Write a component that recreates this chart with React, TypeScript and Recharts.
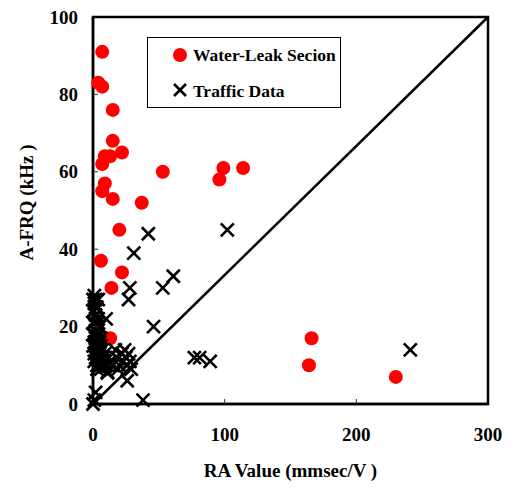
import {
  ScatterChart,
  Scatter,
  XAxis,
  YAxis,
  ReferenceLine,
  ReferenceArea,
  Legend,
} from "recharts";

const FONT = '"Liberation Serif", "Times New Roman", serif';

const xTicks = [0, 100, 200, 300];
const yTicks = [0, 20, 40, 60, 80, 100];

// Water-leak section points (RA value, A-FRQ)
const leakRA = [7, 4, 7, 15, 15, 22, 9, 13, 7, 53, 99, 96, 114, 9, 7, 15, 37, 20, 6, 22, 14, 13, 166, 164, 230];
const leakFRQ = [91, 83, 82, 76, 68, 65, 64, 64, 62, 60, 61, 58, 61, 57, 55, 53, 52, 45, 37, 34, 30, 17, 17, 10, 7];

// Traffic data points
const trafficRA = [
  102, 42, 31, 61, 53, 28, 27, 46, 10, 77, 81, 89, 241, 26, 38, 2, 1, 0,
  1, 2, 4, 1, 3, 1, 2, 4, 1, 3, 2, 1, 4, 2, 3, 5, 2, 4, 6, 3, 5, 7, 4, 6, 8, 5, 9, 0,
  0, 0, 0, 0, 1, 2, 3, 1, 2, 3, 4, 5, 6, 7, 6, 8, 9, 10, 3, 4, 2, 5, 6, 7, 1, 3,
  12, 11, 17, 18, 20, 22, 23, 25, 26, 27, 28, 29, 24, 15, 9, 11, 13, 19,
];
const trafficFRQ = [
  45, 44, 39, 33, 30, 30, 27, 20, 22, 12, 12, 11, 14, 6, 1, 3, 1, 0,
  28, 27, 27, 26, 25, 24, 23, 22, 21, 20, 19, 18, 18, 17, 16, 16, 15, 14, 14, 13, 13, 12, 12, 11, 10, 10, 13, 27,
  24, 21, 18, 15, 13, 12, 10, 16, 14, 17, 15, 12, 15, 14, 9, 12, 11, 10, 19, 21, 25, 20, 17, 11, 11, 9,
  12, 8, 14, 12, 10, 13, 11, 12, 10, 13, 11, 9, 14, 10, 9.6, 8.3, 11, 9,
];

const diagonal = [
  { x: 0, y: 0 },
  { x: 300, y: 100 },
];

const leakData = leakRA.map((x, i) => ({ x, y: leakFRQ[i] }));
const trafficData = trafficRA.map((x, i) => ({ x, y: trafficFRQ[i] }));

const X_MARGIN = 24;
const Y_MARGIN = 15;
const INNER_TICK = 5;

function Cross({ cx, cy }: any) {
  const s = 6.5;
  return (
    <g stroke="#000" strokeWidth={2.6}>
      <line x1={cx - s} y1={cy - s} x2={cx + s} y2={cy + s} />
      <line x1={cx - s} y1={cy + s} x2={cx + s} y2={cy - s} />
    </g>
  );
}

function Dot({ cx, cy }: any) {
  return <circle cx={cx} cy={cy} r={7} fill="#ff0000" />;
}

function XTick({ x, y, payload }: any) {
  const axisY = y - X_MARGIN;
  const v = payload.value;
  return (
    <g>
      {v > 0 && v < 300 && (
        <line x1={x} y1={axisY} x2={x} y2={axisY - INNER_TICK} stroke="#333" strokeWidth={1} />
      )}
      <text x={x} y={y + 13} textAnchor="middle" fontFamily={FONT} fontWeight="bold" fontSize={19} fill="#000">
        {v}
      </text>
    </g>
  );
}

function YTick({ x, y, payload }: any) {
  const axisX = x + Y_MARGIN;
  const v = payload.value;
  return (
    <g>
      {v > 0 && v < 100 && (
        <line x1={axisX} y1={y} x2={axisX + INNER_TICK} y2={y} stroke="#333" strokeWidth={1} />
      )}
      <text x={x} y={y + 6.5} textAnchor="end" fontFamily={FONT} fontWeight="bold" fontSize={19} fill="#000">
        {v}
      </text>
    </g>
  );
}

function LegendBox() {
  return (
    <svg width={194} height={71} style={{ display: "block" }}>
      <rect x={0.5} y={0.5} width={193} height={70} fill="#fff" stroke="#000" strokeWidth={1} />
      <circle cx={33} cy={18} r={7} fill="#ff0000" />
      <text x={46} y={24} fontFamily={FONT} fontWeight="bold" fontSize={17.5} fill="#000">
        Water-Leak Secion
      </text>
      <g stroke="#000" strokeWidth={2.6}>
        <line x1={27} y1={47} x2={39} y2={59} />
        <line x1={27} y1={59} x2={39} y2={47} />
      </g>
      <text x={46} y={60} fontFamily={FONT} fontWeight="bold" fontSize={17.5} fill="#000">
        Traffic Data
      </text>
    </svg>
  );
}

export default function App() {
  return (
    <div style={{ position: "absolute", left: 0, top: 0, background: "#fff" }}>
      <ScatterChart width={515} height={489} margin={{ top: 17, right: 27, bottom: 0, left: 0 }}>
        <XAxis
          type="number"
          dataKey="x"
          domain={[0, 300]}
          ticks={xTicks}
          interval={0}
          axisLine={{ stroke: "#000", strokeWidth: 2.5 }}
          tickLine={false}
          tickSize={0}
          tickMargin={X_MARGIN}
          tick={<XTick />}
          height={85}
          label={{
            value: "RA Value (mmsec/V )",
            position: "insideBottom",
            offset: 12,
            style: { fontFamily: FONT, fontWeight: "bold", fontSize: 19, fill: "#000" },
          }}
        />
        <YAxis
          type="number"
          dataKey="y"
          domain={[0, 100]}
          ticks={yTicks}
          interval={0}
          axisLine={{ stroke: "#000", strokeWidth: 2.5 }}
          tickLine={false}
          tickSize={0}
          tickMargin={Y_MARGIN}
          tick={<YTick />}
          width={93}
          label={{
            value: "A-FRQ (kHz )",
            angle: -90,
            position: "insideLeft",
            offset: 26,
            dy: -8,
            style: { textAnchor: "middle", fontFamily: FONT, fontWeight: "bold", fontSize: 19, fill: "#000" },
          }}
        />
        <ReferenceArea x1={0} x2={300} y1={0} y2={100} fill="none" stroke="#000" strokeWidth={2.5} />
        <ReferenceLine segment={diagonal} stroke="#000" strokeWidth={2.5} />
        <Legend
          layout="vertical"
          align="center"
          verticalAlign="middle"
          wrapperStyle={{ left: 147, top: 37, width: 194, height: 71 }}
          content={() => <LegendBox />}
        />
        <Scatter name="Water-Leak Secion" data={leakData} shape={<Dot />} isAnimationActive={false} />
        <Scatter name="Traffic Data" data={trafficData} shape={<Cross />} isAnimationActive={false} />
      </ScatterChart>
    </div>
  );
}
